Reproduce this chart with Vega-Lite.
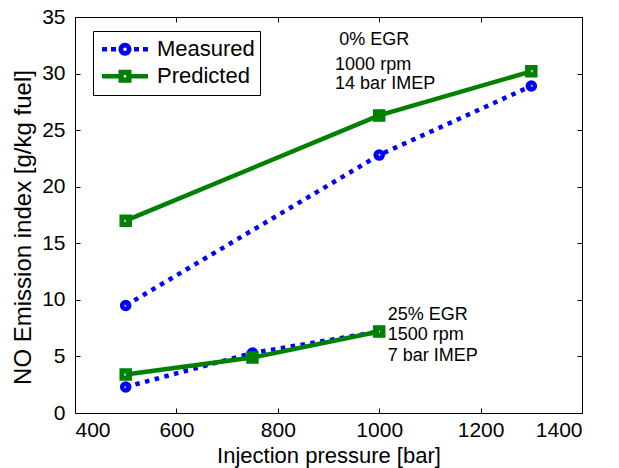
{
  "$schema": "https://vega.github.io/schema/vega-lite/v6.json",
  "width": 507,
  "height": 396,
  "autosize": {"type": "none"},
  "padding": {"left": 75, "top": 17, "right": 37, "bottom": 55},
  "background": "white",
  "datasets": {
    "emissions": [
      {"pressure": 500, "no": 9.5, "type": "Measured", "case": "0% EGR"},
      {"pressure": 1000, "no": 22.8, "type": "Measured", "case": "0% EGR"},
      {"pressure": 1300, "no": 28.9, "type": "Measured", "case": "0% EGR"},
      {"pressure": 500, "no": 17.0, "type": "Predicted", "case": "0% EGR"},
      {"pressure": 1000, "no": 26.3, "type": "Predicted", "case": "0% EGR"},
      {"pressure": 1300, "no": 30.2, "type": "Predicted", "case": "0% EGR"},
      {"pressure": 500, "no": 2.3, "type": "Measured", "case": "25% EGR"},
      {"pressure": 750, "no": 5.3, "type": "Measured", "case": "25% EGR"},
      {"pressure": 1000, "no": 7.2, "type": "Measured", "case": "25% EGR"},
      {"pressure": 500, "no": 3.4, "type": "Predicted", "case": "25% EGR"},
      {"pressure": 750, "no": 4.9, "type": "Predicted", "case": "25% EGR"},
      {"pressure": 1000, "no": 7.2, "type": "Predicted", "case": "25% EGR"}
    ],
    "notes": [
      {"pressure": 921, "no": 33.0, "note": "0% EGR"},
      {"pressure": 913, "no": 30.8, "note": "1000 rpm"},
      {"pressure": 913, "no": 29.1, "note": "14 bar IMEP"},
      {"pressure": 1017, "no": 8.7, "note": "25% EGR"},
      {"pressure": 1017, "no": 6.9, "note": "1500 rpm"},
      {"pressure": 1017, "no": 5.0, "note": "7 bar IMEP"}
    ]
  },
  "layer": [
    {
      "data": {"name": "emissions"},
      "transform": [{"filter": "datum.type === 'Measured'"}],
      "mark": {"type": "line", "strokeWidth": 4.5, "strokeDash": [4.5, 5.5], "strokeCap": "butt"},
      "encoding": {
        "x": {
          "field": "pressure", "type": "quantitative",
          "scale": {"domain": [400, 1400], "nice": false, "zero": false},
          "axis": {"orient": "bottom", "values": [400, 600, 800, 1000, 1200, 1400], "format": "d", "title": "Injection pressure [bar]", "labelPadding": 6.5, "titlePadding": 5}
        },
        "y": {
          "field": "no", "type": "quantitative",
          "scale": {"domain": [0, 35], "nice": false, "zero": false},
          "axis": {"orient": "left", "values": [0, 5, 10, 15, 20, 25, 30, 35], "title": "NO Emission index [g/kg fuel]", "titleFontSize": 24, "titleY": 210, "labelPadding": 10, "titlePadding": 6}
        },
        "detail": {"field": "case"},
        "color": {
          "field": "type", "type": "nominal",
          "scale": {"domain": ["Measured", "Predicted"], "range": ["#0000ff", "#008000"]},
          "legend": {
            "orient": "none", "legendX": 18, "legendY": 14,
            "title": null,
            "strokeColor": "black", "fillColor": "white",
            "padding": 5,
            "labelFontSize": 22, "labelOffset": 7, "labelColor": "black",
            "symbolSize": 2500, "symbolStrokeWidth": 0, "symbolOffset": 2,
            "clipHeight": 26.7, "rowPadding": 0,
            "encode": {
              "symbols": {
                "update": {
                  "shape": {"signal": "datum.value === 'Measured' ? 'M-0.92,-0.09H-0.72V0.09H-0.92Z M-0.56,-0.09H-0.36V0.09H-0.56Z M0.36,-0.09H0.56V0.09H0.36Z M0.72,-0.09H0.92V0.09H0.72Z M0.26,0A0.26,0.26 0 1,1 -0.26,0A0.26,0.26 0 1,1 0.26,0Z M0.07,0A0.07,0.07 0 1,0 -0.07,0A0.07,0.07 0 1,0 0.07,0Z' : 'M-0.92,-0.09H-0.26V0.09H-0.92Z M0.26,-0.09H0.92V0.09H0.26Z M-0.26,-0.26H0.26V0.26H-0.26Z M-0.05,-0.05V0.05H0.05V-0.05Z'"},
                  "fill": {"scale": "color", "field": "value"},
                  "strokeWidth": {"value": 0}
                }
              }
            }
          }
        }
      }
    },
    {
      "data": {"name": "emissions"},
      "transform": [{"filter": "datum.type === 'Measured'"}],
      "mark": {"type": "point", "shape": "circle", "filled": false, "stroke": "#0000ff", "strokeWidth": 4.5, "size": 50, "opacity": 1},
      "encoding": {
        "x": {"field": "pressure", "type": "quantitative", "axis": null},
        "y": {"field": "no", "type": "quantitative", "axis": null}
      }
    },
    {
      "data": {"name": "emissions"},
      "transform": [{"filter": "datum.type === 'Predicted'"}],
      "mark": {"type": "line", "strokeWidth": 4.5, "color": "#008000"},
      "encoding": {
        "x": {"field": "pressure", "type": "quantitative", "axis": null},
        "y": {"field": "no", "type": "quantitative", "axis": null},
        "detail": {"field": "case"}
      }
    },
    {
      "data": {"name": "emissions"},
      "transform": [{"filter": "datum.type === 'Predicted'"}],
      "mark": {"type": "point", "shape": "square", "filled": false, "stroke": "#008000", "strokeWidth": 5, "size": 56, "opacity": 1},
      "encoding": {
        "x": {"field": "pressure", "type": "quantitative", "axis": null},
        "y": {"field": "no", "type": "quantitative", "axis": null}
      }
    },
    {
      "data": {"name": "notes"},
      "mark": {"type": "text", "align": "left", "baseline": "middle", "fontSize": 18, "color": "black"},
      "encoding": {
        "x": {
          "field": "pressure", "type": "quantitative",
          "axis": {"orient": "top", "values": [400, 600, 800, 1000, 1200, 1400], "labels": false, "title": null}
        },
        "y": {
          "field": "no", "type": "quantitative",
          "axis": {"orient": "right", "values": [0, 5, 10, 15, 20, 25, 30, 35], "labels": false, "title": null}
        },
        "text": {"field": "note"}
      }
    }
  ],
  "resolve": {"axis": {"x": "independent", "y": "independent"}},
  "config": {
    "font": "Liberation Sans",
    "view": {"stroke": "black", "strokeWidth": 1},
    "axis": {
      "grid": false,
      "domain": false,
      "ticks": true,
      "zindex": 1,
      "offset": -5,
      "tickColor": "black",
      "tickWidth": 1,
      "tickSize": 5,
      "tickOpacity": 1,
      "labelColor": "black",
      "labelFontSize": 21,
      "labelFont": "Liberation Sans",
      "titleColor": "black",
      "titleFont": "Liberation Sans",
      "titleFontSize": 22,
      "titleFontWeight": "normal"
    },
    "legend": {"labelFont": "Liberation Sans"}
  }
}
